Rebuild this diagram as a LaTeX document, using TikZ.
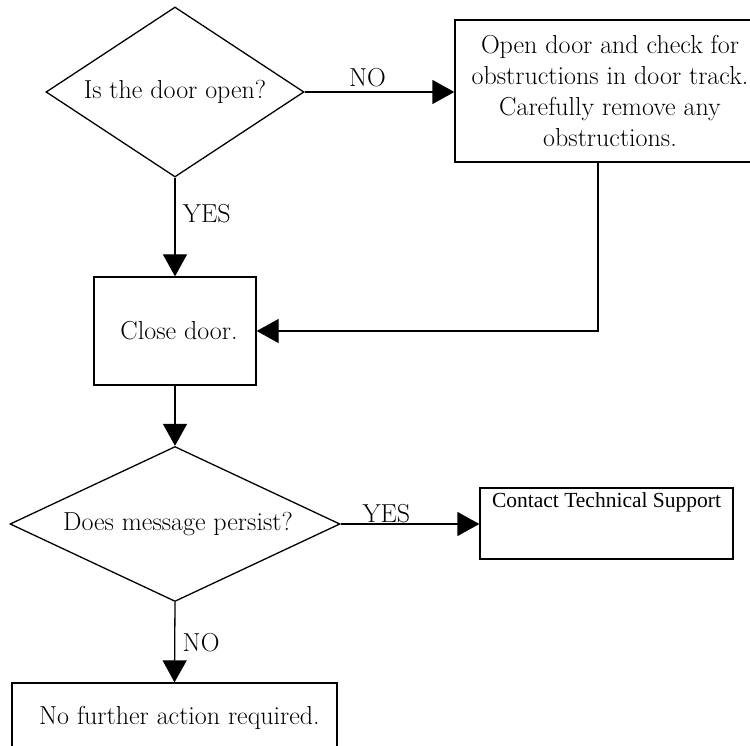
\documentclass[tikz,border=0pt]{standalone}
\usepackage{fontspec}
\newfontfamily\timesfont{Liberation Serif}
\usetikzlibrary{positioning,shapes.geometric,arrows.meta}

\begin{document}
\begin{tikzpicture}[x=1pt,y=-1pt,
  line width=1.3pt,
  every node/.style={font=\fontsize{26}{31}\selectfont},
  decision/.style={diamond,draw,inner sep=0pt,aspect=1.5},
  stepbox/.style={rectangle,draw,inner sep=0pt,align=center},
  arr/.style={-{Triangle[length=22pt,width=24pt]}}]

\clip (0,0) rectangle (750,746);

\node[decision,minimum width=258,minimum height=170] (Q1) at (175,92) {Is the door open?};
\node[stepbox,minimum width=310,minimum height=142] (Open) at (610,91)
  {Open door and check for\\obstructions in door track.\\Carefully remove any\\obstructions.};
\node[stepbox,minimum width=162,minimum height=108] (Close) at (175,331) {\hspace*{8pt}Close door.};
\node[decision,aspect=2.2,minimum width=330,minimum height=155] (Q2) at (175,524) {\hspace*{6pt}Does message persist?};
\node[stepbox,minimum width=253,minimum height=71,
  label={[anchor=north,inner sep=0pt,yshift=-5pt,font=\timesfont\fontsize{21.5}{24}\selectfont]north:Contact Technical Support}]
  (Support) at (606.5,523.5) {};
\node[stepbox,minimum width=325,minimum height=70] (Done) at (174.5,718) {\hspace*{10pt}No further action required.};
\coordinate (turn) at (598,333);

\draw[arr] (Q1.east) -- node[pos=0.42,above=1pt] {NO} (Q1.east -| Open.west);
\draw[arr] (Q1.south) -- node[pos=0.36,right=4pt] {YES} (Close.north);
\draw[arr] (Open.south -| turn) |- (Close.east);
\draw[arr] (Close.south) -- (Q2.north);
\draw[arr] (Q2.east) -- node[pos=0.33,above=-3pt] {YES} (Q2.east -| Support.west);
\draw[arr] (Q2.south) -- node[pos=0.5,right=4pt] {NO} (Done.north);

\end{tikzpicture}
\end{document}
